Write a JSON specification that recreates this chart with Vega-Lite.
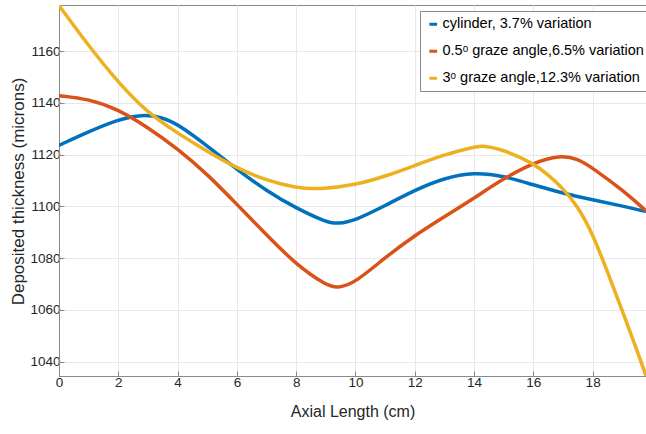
{
  "$schema": "https://vega.github.io/schema/vega-lite/v6.json",
  "width": 587,
  "height": 371,
  "autosize": {"type": "none"},
  "padding": {"left": 59, "top": 5, "right": 0, "bottom": 58},
  "background": "white",
  "config": {
    "view": {"stroke": "#8a8a8a", "strokeWidth": 1},
    "font": "Liberation Sans",
    "axis": {
      "domainColor": "#8a8a8a",
      "tickColor": "#8a8a8a",
      "gridColor": "#e8e8e8",
      "labelColor": "#262626",
      "titleColor": "#262626",
      "labelFont": "Liberation Sans",
      "titleFont": "Liberation Sans",
      "labelFontSize": 13.5,
      "titleFontSize": 16,
      "titleFontWeight": "normal",
      "tickSize": -5
    }
  },
  "data": {
    "values": [
      {"series": "cylinder, 3.7% variation", "x": 0, "y": 1123.6},
      {"series": "cylinder, 3.7% variation", "x": 1, "y": 1128.9},
      {"series": "cylinder, 3.7% variation", "x": 2, "y": 1133.6},
      {"series": "cylinder, 3.7% variation", "x": 2.8, "y": 1135.6},
      {"series": "cylinder, 3.7% variation", "x": 3.5, "y": 1134.4},
      {"series": "cylinder, 3.7% variation", "x": 4, "y": 1131.8},
      {"series": "cylinder, 3.7% variation", "x": 5, "y": 1123.4},
      {"series": "cylinder, 3.7% variation", "x": 6, "y": 1114.3},
      {"series": "cylinder, 3.7% variation", "x": 7, "y": 1106},
      {"series": "cylinder, 3.7% variation", "x": 8, "y": 1099.3},
      {"series": "cylinder, 3.7% variation", "x": 9, "y": 1094},
      {"series": "cylinder, 3.7% variation", "x": 9.4, "y": 1093.2},
      {"series": "cylinder, 3.7% variation", "x": 10, "y": 1094.6},
      {"series": "cylinder, 3.7% variation", "x": 11, "y": 1100.3},
      {"series": "cylinder, 3.7% variation", "x": 12, "y": 1106.3},
      {"series": "cylinder, 3.7% variation", "x": 13, "y": 1111},
      {"series": "cylinder, 3.7% variation", "x": 14, "y": 1113.2},
      {"series": "cylinder, 3.7% variation", "x": 15, "y": 1111.8},
      {"series": "cylinder, 3.7% variation", "x": 16, "y": 1108.3},
      {"series": "cylinder, 3.7% variation", "x": 17, "y": 1105.1},
      {"series": "cylinder, 3.7% variation", "x": 18, "y": 1102.5},
      {"series": "cylinder, 3.7% variation", "x": 19, "y": 1100.2},
      {"series": "cylinder, 3.7% variation", "x": 19.8, "y": 1098},
      {"series": "0.5ᵒ graze angle,6.5% variation", "x": 0, "y": 1142.8},
      {"series": "0.5ᵒ graze angle,6.5% variation", "x": 1, "y": 1141.5},
      {"series": "0.5ᵒ graze angle,6.5% variation", "x": 2, "y": 1137.5},
      {"series": "0.5ᵒ graze angle,6.5% variation", "x": 3, "y": 1130.5},
      {"series": "0.5ᵒ graze angle,6.5% variation", "x": 4, "y": 1122.3},
      {"series": "0.5ᵒ graze angle,6.5% variation", "x": 5, "y": 1112.5},
      {"series": "0.5ᵒ graze angle,6.5% variation", "x": 6, "y": 1100.8},
      {"series": "0.5ᵒ graze angle,6.5% variation", "x": 7, "y": 1089},
      {"series": "0.5ᵒ graze angle,6.5% variation", "x": 8, "y": 1077.5},
      {"series": "0.5ᵒ graze angle,6.5% variation", "x": 9, "y": 1069.6},
      {"series": "0.5ᵒ graze angle,6.5% variation", "x": 9.4, "y": 1068.3},
      {"series": "0.5ᵒ graze angle,6.5% variation", "x": 10, "y": 1070.6},
      {"series": "0.5ᵒ graze angle,6.5% variation", "x": 11, "y": 1080.3},
      {"series": "0.5ᵒ graze angle,6.5% variation", "x": 12, "y": 1088.8},
      {"series": "0.5ᵒ graze angle,6.5% variation", "x": 13, "y": 1096},
      {"series": "0.5ᵒ graze angle,6.5% variation", "x": 14, "y": 1103.2},
      {"series": "0.5ᵒ graze angle,6.5% variation", "x": 15, "y": 1110.8},
      {"series": "0.5ᵒ graze angle,6.5% variation", "x": 16, "y": 1116.9},
      {"series": "0.5ᵒ graze angle,6.5% variation", "x": 16.9, "y": 1119.8},
      {"series": "0.5ᵒ graze angle,6.5% variation", "x": 17.5, "y": 1118.4},
      {"series": "0.5ᵒ graze angle,6.5% variation", "x": 18, "y": 1114.8},
      {"series": "0.5ᵒ graze angle,6.5% variation", "x": 19, "y": 1106.4},
      {"series": "0.5ᵒ graze angle,6.5% variation", "x": 19.8, "y": 1098.3},
      {"series": "3ᵒ graze angle,12.3% variation", "x": 0, "y": 1177.6},
      {"series": "3ᵒ graze angle,12.3% variation", "x": 1, "y": 1162},
      {"series": "3ᵒ graze angle,12.3% variation", "x": 2, "y": 1147.8},
      {"series": "3ᵒ graze angle,12.3% variation", "x": 3, "y": 1136},
      {"series": "3ᵒ graze angle,12.3% variation", "x": 4, "y": 1128.3},
      {"series": "3ᵒ graze angle,12.3% variation", "x": 5, "y": 1121.2},
      {"series": "3ᵒ graze angle,12.3% variation", "x": 6, "y": 1114.8},
      {"series": "3ᵒ graze angle,12.3% variation", "x": 7, "y": 1110},
      {"series": "3ᵒ graze angle,12.3% variation", "x": 8, "y": 1107.1},
      {"series": "3ᵒ graze angle,12.3% variation", "x": 8.8, "y": 1106.6},
      {"series": "3ᵒ graze angle,12.3% variation", "x": 10, "y": 1108.3},
      {"series": "3ᵒ graze angle,12.3% variation", "x": 11, "y": 1111.6},
      {"series": "3ᵒ graze angle,12.3% variation", "x": 12, "y": 1115.8},
      {"series": "3ᵒ graze angle,12.3% variation", "x": 13, "y": 1120},
      {"series": "3ᵒ graze angle,12.3% variation", "x": 14, "y": 1123},
      {"series": "3ᵒ graze angle,12.3% variation", "x": 14.3, "y": 1123.5},
      {"series": "3ᵒ graze angle,12.3% variation", "x": 15, "y": 1121.9},
      {"series": "3ᵒ graze angle,12.3% variation", "x": 16, "y": 1116.7},
      {"series": "3ᵒ graze angle,12.3% variation", "x": 16.5, "y": 1112.2},
      {"series": "3ᵒ graze angle,12.3% variation", "x": 17, "y": 1107},
      {"series": "3ᵒ graze angle,12.3% variation", "x": 17.5, "y": 1100},
      {"series": "3ᵒ graze angle,12.3% variation", "x": 18, "y": 1089.5},
      {"series": "3ᵒ graze angle,12.3% variation", "x": 18.5, "y": 1074.7},
      {"series": "3ᵒ graze angle,12.3% variation", "x": 19, "y": 1059.8},
      {"series": "3ᵒ graze angle,12.3% variation", "x": 19.5, "y": 1044.3},
      {"series": "3ᵒ graze angle,12.3% variation", "x": 19.8, "y": 1034.6}
    ]
  },
  "mark": {"type": "line", "strokeWidth": 3.5, "interpolate": "basis", "clip": true},
  "encoding": {
    "x": {
      "field": "x", "type": "quantitative",
      "scale": {"domain": [0, 19.8], "nice": false, "zero": false},
      "axis": {"title": "Axial Length (cm)", "values": [0, 2, 4, 6, 8, 10, 12, 14, 16, 18], "labelPadding": 4, "titleY": 35, "titleBaseline": "middle", "labelFlush": false}
    },
    "y": {
      "field": "y", "type": "quantitative",
      "scale": {"domain": [1034.5, 1177.8], "nice": false, "zero": false},
      "axis": {"title": "Deposited thickness (microns)", "format": "d", "values": [1040, 1060, 1080, 1100, 1120, 1140, 1160], "labelPadding": 4, "titleX": -41, "titleY": 186, "titleFontSize": 17, "titleBaseline": "middle", "labelFlush": false}
    },
    "color": {
      "field": "series", "type": "nominal",
      "sort": ["cylinder, 3.7% variation", "0.5ᵒ graze angle,6.5% variation", "3ᵒ graze angle,12.3% variation"],
      "scale": {"range": ["#0072BD", "#D95319", "#EDB120"]},
      "legend": {
        "title": null, "orient": "none", "legendX": 361, "legendY": 6,
        "symbolType": "stroke", "symbolStrokeWidth": 3, "symbolSize": 60,
        "labelFontSize": 14.5, "labelFont": "Liberation Sans", "labelColor": "#000000",
        "labelLimit": 400, "rowPadding": 12, "strokeColor": "#8a8a8a", "fillColor": "white",
        "padding": 6, "labelOffset": 2
      }
    }
  }
}
